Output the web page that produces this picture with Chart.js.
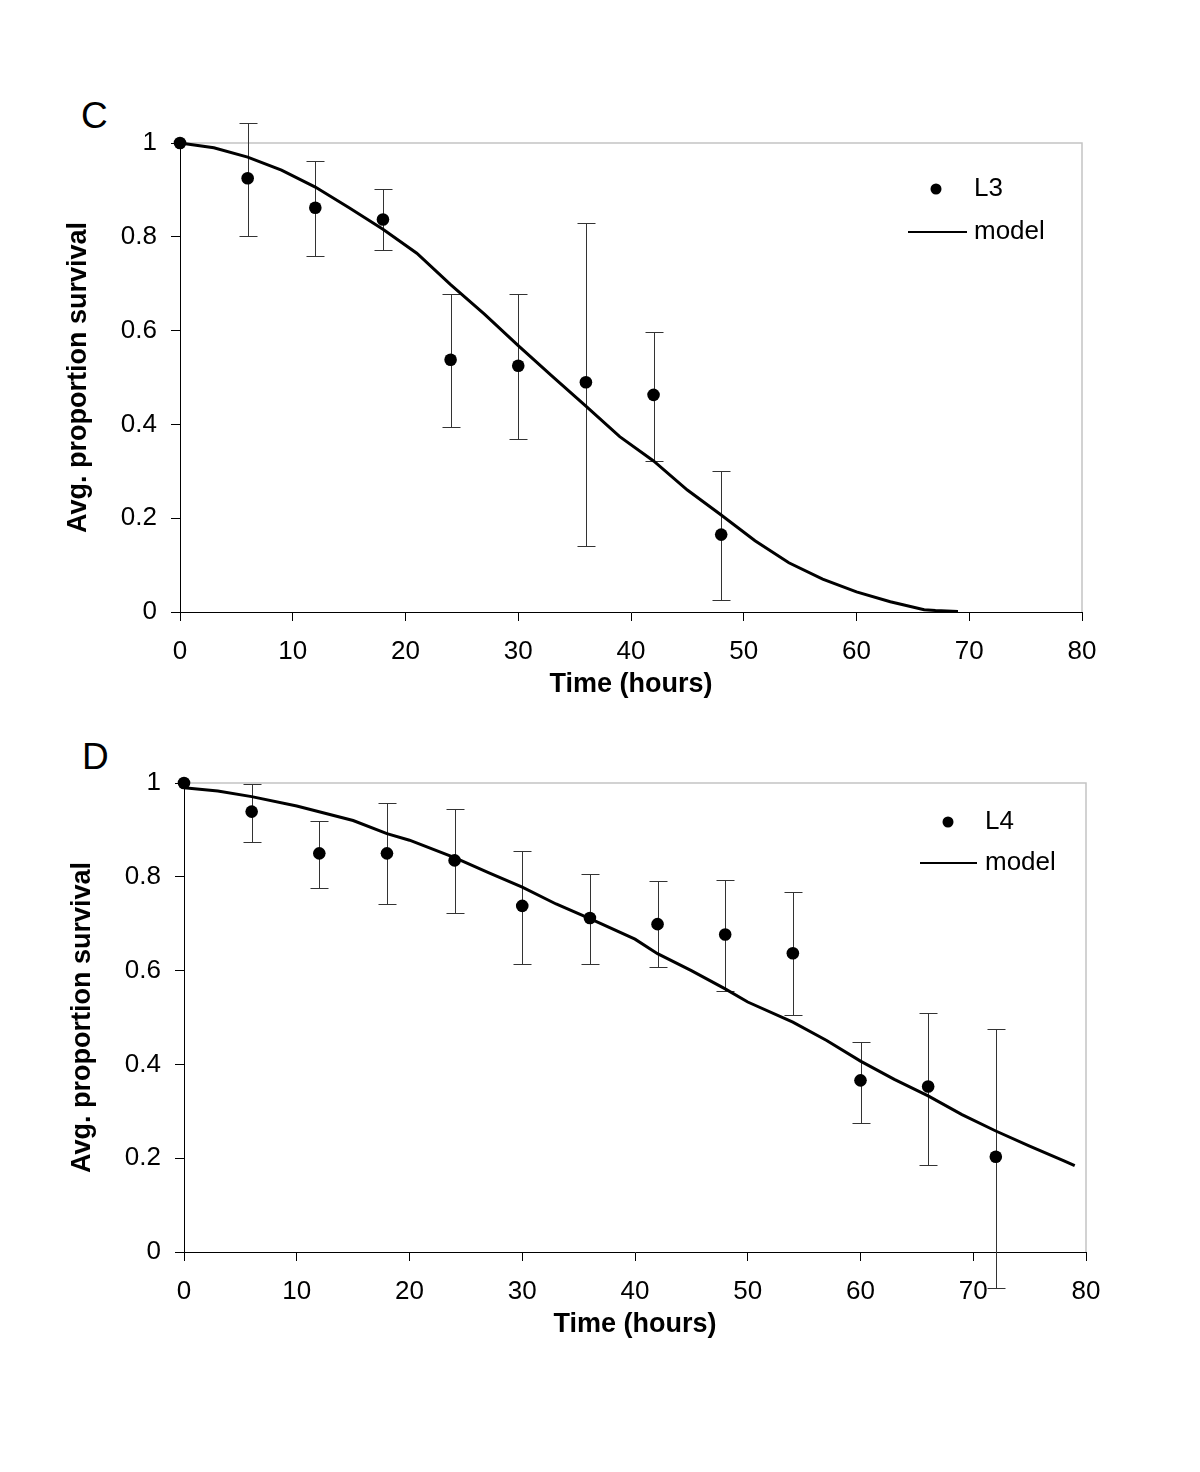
<!DOCTYPE html>
<html>
<head>
<meta charset="utf-8">
<script src="https://cdn.jsdelivr.net/npm/chart.js@4.4.1/dist/chart.umd.min.js"></script>
<style>
  body { margin: 0; background: #fff; width: 1200px; height: 1472px; position: relative; overflow: hidden;
         font-family: "Liberation Sans", Arial, sans-serif; }
  canvas { position: absolute; }
  .panel { position: absolute; font-size: 37px; line-height: 1; color: #000; }
</style>
</head>
<body>
<div class="panel" style="left:81px; top:97px;">C</div>
<canvas id="chartC" width="1200" height="720" style="left:0; top:0;"></canvas>
<div class="panel" style="left:82px; top:738px;">D</div>
<canvas id="chartD" width="1200" height="720" style="left:4px; top:640px;"></canvas>
<script>
// panel C - L3 observations (mean with error bars)
const timeC = [0, 6, 12, 18, 24, 30, 36, 42, 48];
const survC = [1.0, 0.925, 0.862, 0.837, 0.538, 0.525, 0.49, 0.463, 0.165];
const lowC  = [null, 0.802, 0.758, 0.771, 0.395, 0.368, 0.141, 0.323, 0.026];
const highC = [null, 1.042, 0.962, 0.901, 0.678, 0.678, 0.829, 0.598, 0.30];

// panel C - model curve
const modelTimeC = [0, 3, 6, 9, 12, 15, 18, 21, 24, 27, 30, 33, 36, 39, 42, 45, 48, 51, 54, 57, 60, 63, 66, 67, 69];
const modelC = [1.0, 0.99, 0.97, 0.942, 0.906, 0.862, 0.816, 0.765, 0.698, 0.635, 0.568, 0.503, 0.439, 0.374,
                0.322, 0.26, 0.207, 0.152, 0.105, 0.07, 0.043, 0.022, 0.005, 0.003, 0.001];

// panel D - L4 observations
const timeD = [0, 6, 12, 18, 24, 30, 36, 42, 48, 54, 60, 66, 72];
const survD = [1.0, 0.939, 0.85, 0.85, 0.835, 0.738, 0.712, 0.699, 0.677, 0.637, 0.366, 0.353, 0.203];
const lowD  = [null, 0.875, 0.777, 0.742, 0.723, 0.615, 0.615, 0.608, 0.556, 0.505, 0.275, 0.186, -0.076];
const highD = [null, 0.998, 0.918, 0.958, 0.945, 0.856, 0.807, 0.79, 0.794, 0.768, 0.448, 0.51, 0.476];

// panel D - model curve
const modelTimeD = [0, 3, 6, 10, 15, 18, 20, 24, 27, 30, 33, 36, 40, 42, 45, 48, 50, 54, 57, 60, 63, 66, 69, 72, 75, 78, 79];
const modelD = [0.99, 0.983, 0.971, 0.951, 0.92, 0.892, 0.878, 0.841, 0.809, 0.778, 0.742, 0.711, 0.667, 0.636,
                0.6, 0.561, 0.533, 0.49, 0.451, 0.407, 0.368, 0.333, 0.293, 0.258, 0.226, 0.195, 0.184];

const xTicks = [0, 10, 20, 30, 40, 50, 60, 70, 80];
const yTicks = [0, 0.2, 0.4, 0.6, 0.8, 1];
const yTickLabels = ['0', '0.2', '0.4', '0.6', '0.8', '1'];

const FONT = '"Liberation Sans", Arial, sans-serif';

function errorBarPlugin(t, lo, hi) {
  return {
    id: 'errorBars',
    beforeDatasetsDraw(chart) {
      const {ctx, scales: {x, y}} = chart;
      ctx.save();
      ctx.strokeStyle = '#333';
      ctx.lineWidth = 1;
      t.forEach((v, i) => {
        if (lo[i] == null) return;
        const px = Math.round(x.getPixelForValue(v)) + 0.5;
        const y1 = Math.round(y.getPixelForValue(lo[i])) + 0.5;
        const y2 = Math.round(y.getPixelForValue(hi[i])) + 0.5;
        ctx.beginPath();
        ctx.moveTo(px, y1); ctx.lineTo(px, y2);
        ctx.moveTo(px - 9, y1); ctx.lineTo(px + 9, y1);
        ctx.moveTo(px - 9, y2); ctx.lineTo(px + 9, y2);
        ctx.stroke();
      });
      ctx.restore();
    }
  };
}

// light grey top/right border of the plot area
const frame = {
  id: 'frame',
  beforeDatasetsDraw(chart) {
    const {ctx, chartArea: a} = chart;
    ctx.save();
    ctx.strokeStyle = '#c4c4c4';
    ctx.lineWidth = 1.5;
    ctx.beginPath();
    ctx.moveTo(a.left, a.top); ctx.lineTo(a.right, a.top); ctx.lineTo(a.right, a.bottom);
    ctx.stroke();
    ctx.restore();
  }
};

function legendPlugin(name, pos) {
  return {
    id: 'legendBox',
    afterDraw(chart) {
      const {ctx, chartArea: a} = chart;
      ctx.save();
      ctx.fillStyle = '#000';
      ctx.strokeStyle = '#000';
      ctx.font = '26px ' + FONT;
      ctx.textBaseline = 'middle';
      ctx.beginPath();
      ctx.arc(a.right + pos.dot, a.top + pos.row1, 5.5, 0, Math.PI * 2);
      ctx.fill();
      ctx.fillText(name, a.right + pos.text, a.top + pos.row1);
      ctx.lineWidth = 2;
      ctx.beginPath();
      ctx.moveTo(a.right + pos.line0, a.top + pos.row2);
      ctx.lineTo(a.right + pos.line1, a.top + pos.row2);
      ctx.stroke();
      ctx.fillText('model', a.right + pos.text, a.top + pos.row2);
      ctx.restore();
    }
  };
}

function makeChart(id, name, t, s, lo, hi, mt, ms, legendPos) {
  new Chart(document.getElementById(id), {
    type: 'scatter',
    data: {
      datasets: [{
        label: name,
        data: t.map((v, i) => ({x: v, y: s[i]})),
        showLine: false,
        pointRadius: 6.3,
        pointBackgroundColor: '#000',
        pointBorderColor: '#000',
        pointBorderWidth: 0,
        clip: false
      }, {
        label: 'model',
        data: mt.map((v, i) => ({x: v, y: ms[i]})),
        showLine: true,
        borderColor: '#000',
        borderWidth: 3,
        pointRadius: 0,
        tension: 0,
        fill: false,
        clip: false
      }]
    },
    options: {
      responsive: false,
      animation: false,
      devicePixelRatio: 1,
      events: [],
      layout: { padding: { left: 50, top: 143, right: 118, bottom: 10 } },
      plugins: { legend: { display: false }, tooltip: { enabled: false } },
      scales: {
        x: {
          type: 'linear', min: 0, max: 80,
          afterBuildTicks: sc => { sc.ticks = xTicks.map(v => ({value: v})); },
          afterFit: sc => { sc.height = 98; },
          ticks: { color: '#000', font: { family: FONT, size: 26 }, padding: 15, maxRotation: 0, autoSkip: false },
          grid: { drawOnChartArea: false, tickLength: 9, color: '#000' },
          border: { color: '#000', width: 1 },
          title: { display: true, text: 'Time (hours)', color: '#000',
                   font: { family: FONT, size: 27, weight: 'bold' }, padding: { top: 0, bottom: 9 } }
        },
        y: {
          type: 'linear', min: 0, max: 1,
          afterBuildTicks: sc => { sc.ticks = yTicks.map(v => ({value: v})); },
          afterFit: sc => { sc.width = 130; },
          ticks: { color: '#000', font: { family: FONT, size: 26 }, padding: 14,
                   callback: (v, i) => yTickLabels[i] },
          grid: { drawOnChartArea: false, tickLength: 9, color: '#000' },
          border: { color: '#000', width: 1 },
          title: { display: true, text: 'Avg. proportion survival', color: '#000',
                   font: { family: FONT, size: 27, weight: 'bold' }, padding: { top: 12, bottom: 0 } }
        }
      }
    },
    plugins: [frame, errorBarPlugin(t, lo, hi), legendPlugin(name, legendPos)]
  });
}

makeChart('chartC', 'L3', timeC, survC, lowC, highC, modelTimeC, modelC,
  { dot: -146, text: -108, line0: -174, line1: -115, row1: 46, row2: 89 });
makeChart('chartD', 'L4', timeD, survD, lowD, highD, modelTimeD, modelD,
  { dot: -138, text: -101, line0: -166, line1: -109, row1: 39, row2: 80 });
</script>
</body>
</html>
